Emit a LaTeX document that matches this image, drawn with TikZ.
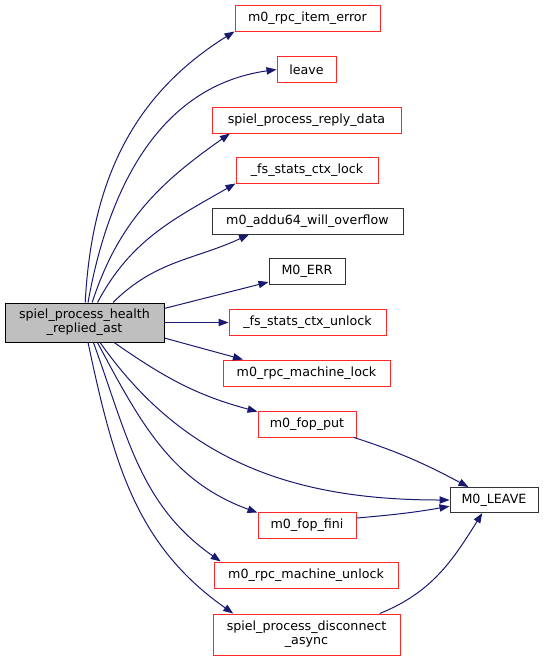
\documentclass[tikz,border=0pt]{standalone}
\usepackage{fontspec}
\setmainfont{DejaVu Sans}
\usepackage{tikz}
\usetikzlibrary{arrows.meta,positioning}
\definecolor{edgeblue}{RGB}{25,25,112}
\definecolor{truncred}{RGB}{255,40,40}
\definecolor{mainfill}{RGB}{191,191,191}

\begin{document}
\begin{tikzpicture}[
  x=0.75pt, y=-0.75pt,
  fn/.style={rectangle, draw=truncred, line width=0.75pt, inner sep=0pt, minimum height=19.5pt, font=\fontsize{9.5}{10.7}\selectfont, align=center},
  plain/.style={fn, draw=black!80},
  root/.style={fn, draw=black, fill=mainfill, minimum height=29.25pt},
  call/.style={-{Triangle[length=7.5pt,width=5.5pt]}, edgeblue, line width=0.75pt}
]
  \useasboundingbox (0,0) rectangle (544,661);

  \node[root, minimum width=119.25pt] (main) at (84.5,322.5) {spiel\_process\_health\\\_replied\_ast};

  \node[fn, minimum width=108.75pt] (itemerr) at (307.5,18) {m0\_rpc\_item\_error};
  \node[fn, minimum width=44.25pt] (leave) at (306.5,69.5) {leave};
  \node[fn, minimum width=141.75pt] (replydata) at (306.5,120) {spiel\_process\_reply\_data};
  \node[fn, minimum width=106.5pt] (ctxlock) at (307,170) {\_fs\_stats\_ctx\_lock};
  \node[plain, minimum width=143.25pt] (addu) at (307.5,221) {m0\_addu64\_will\_overflow};
  \node[plain, minimum width=57pt] (merr) at (307,271) {M0\_ERR};
  \node[fn, minimum width=117.75pt] (ctxunlock) at (307.5,322.5) {\_fs\_stats\_ctx\_unlock};
  \node[fn, minimum width=125.25pt] (mlock) at (306.5,373) {m0\_rpc\_machine\_lock};
  \node[fn, minimum width=73.5pt] (fopput) at (307,424) {m0\_fop\_put};
  \node[plain, minimum width=66pt, minimum height=18.75pt] (mleave) at (494,500) {M0\_LEAVE};
  \node[fn, minimum width=73.5pt] (fopfini) at (307,525) {m0\_fop\_fini};
  \node[fn, minimum width=138pt] (munlock) at (306,575) {m0\_rpc\_machine\_unlock};
  \node[fn, minimum width=140.25pt, minimum height=30.75pt] (disconnect) at (306.5,634.5) {spiel\_process\_disconnect\\\_async};

  % calls going up
  \draw[call] (main.88) to[out=87, in=212] (itemerr.south west);
  \draw[call] (main.80) to[out=80, in=188] (leave.west);
  \draw[call] (main.69) to[out=72, in=215] (replydata.190);
  \draw[call] (main.57) to[out=62, in=210] (ctxlock.south west);
  \draw[call] (main.35) to[out=45, in=205] (addu.193);
  \draw[call] (main.10) -- (merr.196);
  \draw[call] (main.east) -- (ctxunlock.west);
  \draw[call] (main.-11) -- (mlock.168);

  % calls going down
  \draw[call] (main.-34) to[out=-35, in=165] (fopput.166);
  \draw[call] (main.-52) to[out=-55, in=180] (mleave.west);
  \draw[call] (main.-57) to[out=-62, in=160] (fopfini.166);
  \draw[call] (main.-66) to[out=-70, in=145] (munlock.171);
  \draw[call] (main.-80) to[out=-78, in=145] (disconnect.164);

  % into M0_LEAVE
  \draw[call] (fopput.-16) to[out=-18, in=152] (mleave.153);
  \draw[call] (fopfini.8) to[out=5, in=190] (mleave.188);
  \draw[call] (disconnect.16) to[out=22, in=-122] (mleave.228);
\end{tikzpicture}
\end{document}
